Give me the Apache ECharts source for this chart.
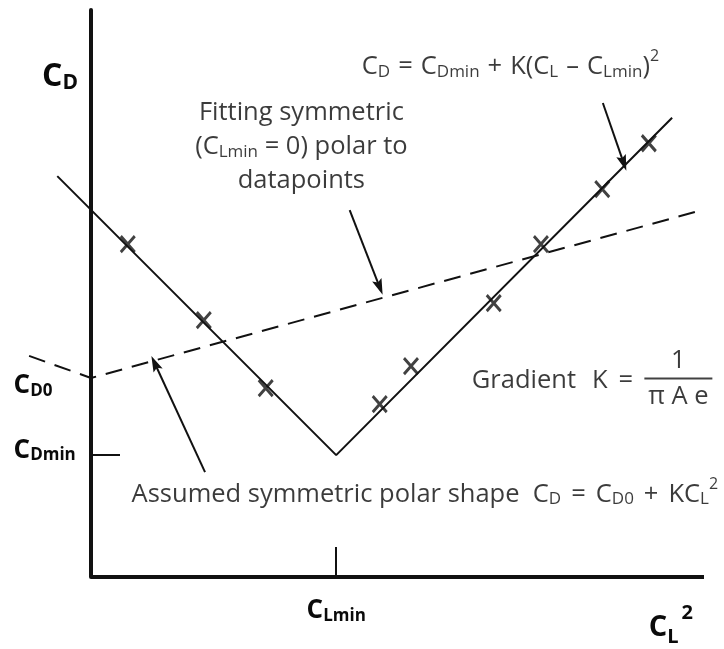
<!DOCTYPE html>
<html><head><meta charset="utf-8">
<script src="https://cdn.jsdelivr.net/npm/echarts@6/dist/echarts.min.js"></script>
<style>html,body{margin:0;padding:0;background:#fff}#c{width:724px;height:649px}</style>
</head><body><div id="c"></div>
<script>
// ---- key levels (schematic units) ----
const CL_MIN = 4.0;
const CD_MIN = 2.15;
const CD0 = 3.51;
// measured polar (solid V)
const polarX = [-0.55, 4.0, 9.48];
const polarY = [7.07, 2.15, 8.10];
// assumed symmetric polar (dashed)
const symX = [-1.01, 0, 9.93];
const symY = [3.90, 3.51, 6.46];
// datapoints (X markers)
const pointX = [0.60, 1.84, 2.85, 4.71, 5.22, 6.57, 7.34, 8.34, 9.10];
const pointY = [5.87, 4.53, 3.33, 3.05, 3.72, 4.83, 5.87, 6.84, 7.65];
// axis extents
const X_MIN = -1.1, X_MAX = 10, Y_MIN = 0, Y_MAX = 10;
const xAxisLineX = [0, X_MAX];
const xAxisLineY = [0, 0];
// annotation arrows: tail -> head
const arrowFrom = [[8.35, 8.36], [4.22, 6.47], [1.86, 1.85]];
const arrowTo   = [[8.69, 7.30], [4.71, 5.11], [1.04, 3.77]];

const INK = '#111111';
const TXT = '#0a0a0a';
const FONT = '"Open Sans", Lato, sans-serif';
const UNIT_PX = 61.3;

function zip(a, b) { return a.map((v, i) => [v, b[i]]); }

const base = {fontFamily: FONT, color: TXT, verticalAlign: 'middle', lineHeight: 34};
const tN = Object.assign({}, base, {fontSize: 25.5});
const noteRich = {
  n: tN,
  s: Object.assign({}, base, {fontSize: 17, padding: [10, 0, 0, 0]}),
  p: Object.assign({}, base, {fontSize: 16, padding: [0, 0, 20, 0]}),
  o: Object.assign({}, base, {fontSize: 25.5, padding: [0, 8, 0, 8]}),
  o2: Object.assign({}, base, {fontSize: 25.5, padding: [0, 10, 0, 10]}),
  k: Object.assign({}, base, {fontSize: 25.5, padding: [0, 0, 0, 16]}),
  eq: Object.assign({}, base, {fontSize: 25.5, padding: [0, 0, 0, 11]}),
  f: {fontFamily: FONT, fontSize: 25.5, lineHeight: 28, color: TXT, align: 'center'},
  bar: {width: 68, height: 2, lineHeight: 8, backgroundColor: INK, fontSize: 1}
};

function note(x, y, text, align) {
  return {value: [x, y], label: {show: true, position: [0, 0], align: align, verticalAlign: 'middle', formatter: text, rich: noteRich}};
}

const notes = [
  note(6.85, 8.99, '{n|C}{s|D}{o|=}{n|C}{s|Dmin}{o|+}{n|K(C}{s|L}{o|–}{n|C}{s|Lmin}{n|)}{p|2}', 'center'),
  note(3.44, 7.58, '{n|Fitting symmetric}\n{n|(C}{s|Lmin}{n| = 0) polar to}\n{n|datapoints}', 'center'),
  note(6.22, 3.45, '{n|Gradient}{k|K}{eq|=}', 'left'),
  note(9.59, 3.49, '{f|1}\n{bar| }\n{f|π A e}', 'center'),
  note(0.67, 1.45, '{n|Assumed symmetric polar shape  C}{s|D}{o2|=}{n|C}{s|D0}{o2|+}{n|KC}{s|L}{p|2}', 'left')
];

const bC = (extra) => Object.assign({fontFamily: FONT, fontWeight: 'bold', fontSize: 26, lineHeight: 30, color: TXT}, extra || {});
const bS = (extra) => Object.assign({fontFamily: FONT, fontWeight: 'bold', fontSize: 17, lineHeight: 30, color: TXT}, extra || {});

const ARROW_HEAD = 'path://M5,0L10,16L5,13L0,16Z';

const chart = echarts.init(document.getElementById('c'));
chart.setOption({
  animation: false,
  backgroundColor: '#fff',
  grid: {left: 91 + X_MIN * UNIT_PX, right: 20, top: 10, bottom: 72, containLabel: false, outerBoundsMode: 'none'},
  xAxis: {
    type: 'value', min: X_MIN, max: X_MAX,
    name: '{c|C}{s|L}{p|2}', nameLocation: 'end', nameGap: 0, nameMoveOverlap: false,
    nameTextStyle: {align: 'right', verticalAlign: 'top', padding: [31, 11, 0, 0], rich: {
      c: bC({fontSize: 29, lineHeight: 40}),
      s: bS({fontSize: 20, lineHeight: 40, padding: [18, 0, 0, 0]}),
      p: bS({fontSize: 20, lineHeight: 40, padding: [0, 0, 30, 3]})
    }},
    axisLine: {show: false},
    axisTick: {show: true, inside: true, length: 30, customValues: [CL_MIN], lineStyle: {color: INK, width: 2}},
    axisLabel: {show: true, customValues: [CL_MIN], margin: 19,
      formatter: () => '{c|C}{s|Lmin}',
      rich: {c: bC(), s: bS({padding: [10, 0, 0, 0]})}},
    splitLine: {show: false}
  },
  yAxis: {
    type: 'value', min: Y_MIN, max: Y_MAX,
    name: '{c|C}{s|D}', nameLocation: 'end', nameGap: -67, nameMoveOverlap: false,
    nameTextStyle: {align: 'right', verticalAlign: 'middle', padding: [0, 13, 0, 0], rich: {
      c: bC({fontSize: 32, lineHeight: 36}),
      s: bS({fontSize: 21, lineHeight: 36, padding: [12, 0, 0, 0]})
    }},
    axisLine: {show: true, onZero: true, lineStyle: {color: INK, width: 4}},
    axisTick: {show: true, inside: true, length: 29, customValues: [CD_MIN], lineStyle: {color: INK, width: 2}},
    axisLabel: {show: true, customValues: [CD0, CD_MIN], margin: 10, align: 'left',
      formatter: (v) => Math.abs(v - CD0) < 1e-6 ? '{c0|C}{s0|D0}' : '{c1|C}{s1|Dmin}',
      rich: {
        c0: bC({padding: [16, 0, 0, 0]}), s0: bS({padding: [26, 0, 0, 0]}),
        c1: bC({padding: [0, 0, 10, 0]}), s1: bS({padding: [0, 0, 0, 0]})
      }},
    splitLine: {show: false}
  },
  series: [
    {name: 'x axis', type: 'line', data: zip(xAxisLineX, xAxisLineY), symbol: 'none', silent: true,
      lineStyle: {color: INK, width: 4}},
    {name: 'Measured polar', type: 'line', data: zip(polarX, polarY), symbol: 'none',
      lineStyle: {color: INK, width: 2}, silent: true},
    {name: 'Symmetric polar', type: 'line', data: zip(symX, symY), symbol: 'none',
      lineStyle: {color: INK, width: 2, type: [17, 10]}, silent: true},
    {name: 'Datapoints', type: 'scatter', data: zip(pointX, pointY),
      symbol: 'path://M0,0L10,12M10,0L0,12', symbolSize: [14, 16],
      itemStyle: {color: INK, borderColor: INK, borderWidth: 3}, silent: true},
    {name: 'Arrows', type: 'line', data: [], silent: true,
      markLine: {silent: true, symbol: ['none', ARROW_HEAD], symbolSize: [10, 16], label: {show: false},
        lineStyle: {color: INK, width: 2, type: 'solid'},
        data: arrowFrom.map((a, i) => [{coord: a}, {coord: arrowTo[i], symbolSize: [10, 16]}])}},
    {name: 'Notes', type: 'scatter', data: notes, clip: false, symbolSize: 1, silent: true,
      itemStyle: {color: 'rgba(0,0,0,0)'}}
  ]
});
</script></body></html>
